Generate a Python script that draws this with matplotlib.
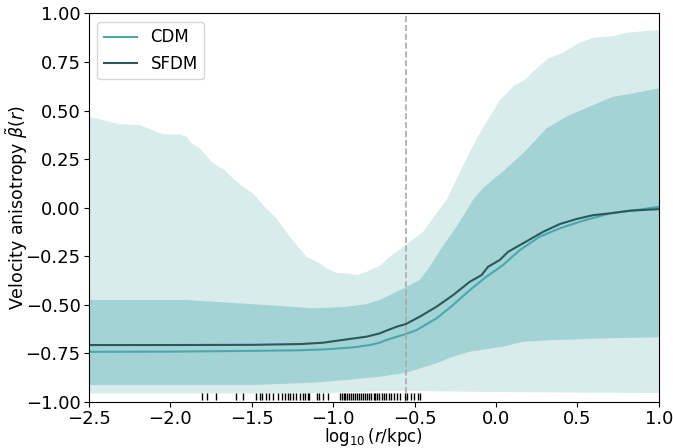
import numpy as np
import matplotlib
matplotlib.use("Agg")
import matplotlib.pyplot as plt

# ---- data ----
# outer (light) band, upper boundary
lu_x = [-2.5, -2.432, -2.31, -2.187, -2.115, -2.044, -1.941, -1.90, -1.870, -1.819, -1.737,
        -1.665, -1.614, -1.553, -1.491, -1.420, -1.348, -1.266, -1.164, -1.082, -1.041,
        -0.979, -0.918, -0.847, -0.795, -0.714, -0.652, -0.554, -0.448, -0.366, -0.304,
        -0.171, -0.100, 0.023, 0.115, 0.177, 0.238, 0.320, 0.402, 0.514, 0.596, 0.719,
        0.801, 0.924, 1.0]
lu_y = [0.468, 0.454, 0.430, 0.425, 0.400, 0.378, 0.377, 0.365, 0.331, 0.305, 0.228,
        0.193, 0.150, 0.107, 0.073, 0.004, -0.056, -0.150, -0.253, -0.287, -0.313,
        -0.336, -0.339, -0.348, -0.331, -0.300, -0.253, -0.193, -0.125, -0.030, 0.039,
        0.270, 0.382, 0.553, 0.631, 0.657, 0.708, 0.768, 0.794, 0.849, 0.874, 0.883,
        0.900, 0.910, 0.914]
# outer (light) band, lower boundary
ll_x = [-2.5, -1.5, -1.0, -0.7, -0.5, 0.0, 0.5, 1.0]
ll_y = [-0.957, -0.957, -0.955, -0.945, -0.945, -0.950, -0.953, -0.955]

# inner (dark) band, upper boundary
du_x = [-2.5, -1.9, -1.737, -1.409, -1.123, -0.918, -0.795, -0.714, -0.554, -0.468, -0.407,
        -0.335, -0.243, -0.141, -0.08, 0.064, 0.166, 0.310, 0.432, 0.596, 0.719, 0.841, 1.0]
du_y = [-0.476, -0.476, -0.485, -0.502, -0.519, -0.511, -0.497, -0.476, -0.411, -0.373,
        -0.305, -0.210, -0.099, 0.039, 0.100, 0.202, 0.279, 0.408, 0.468, 0.528, 0.571,
        0.588, 0.614]
# inner (dark) band, lower boundary
dl_x = [-2.5, -1.5, -1.123, -0.918, -0.714, -0.554, -0.366, -0.264, -0.161, 0.043, 0.166,
        0.370, 0.656, 1.0]
dl_y = [-0.914, -0.914, -0.902, -0.888, -0.871, -0.851, -0.802, -0.768, -0.742, -0.717,
        -0.691, -0.682, -0.674, -0.668]

# mean curves
cdm_x = [-2.5, -2.0, -1.5, -1.2, -1.041, -0.877, -0.775, -0.714, -0.673, -0.554, -0.488,
         -0.366, -0.264, -0.161, -0.059, 0.043, 0.146, 0.268, 0.391, 0.534, 0.698, 0.862, 1.0]
cdm_y = [-0.743, -0.742, -0.738, -0.735, -0.730, -0.720, -0.708, -0.696, -0.682, -0.651,
         -0.631, -0.571, -0.502, -0.425, -0.356, -0.296, -0.219, -0.150, -0.107, -0.068,
         -0.030, -0.013, 0.004]
sfdm_x = [-2.5, -2.0, -1.5, -1.2, -1.061, -0.918, -0.795, -0.714, -0.673, -0.611, -0.554,
          -0.468, -0.366, -0.264, -0.161, -0.089, -0.049, 0.023, 0.074, 0.166, 0.289, 0.391,
          0.494, 0.596, 0.698, 0.821, 1.0]
sfdm_y = [-0.708, -0.708, -0.707, -0.703, -0.696, -0.679, -0.665, -0.648, -0.634, -0.614,
          -0.600, -0.562, -0.511, -0.451, -0.382, -0.348, -0.305, -0.270, -0.228, -0.184,
          -0.125, -0.085, -0.059, -0.039, -0.030, -0.016, -0.008]

# rug positions
rug_x = [-1.808, -1.777, -1.720, -1.598, -1.553, -1.471, -1.450, -1.434, -1.413, -1.393,
         -1.372, -1.338, -1.317, -1.297, -1.277, -1.262, -1.246, -1.225, -1.205, -1.188,
         -1.174, -1.157, -1.148, -1.102, -1.086, -1.065, -1.031, -0.960, -0.948, -0.935,
         -0.925, -0.912, -0.900, -0.888, -0.876, -0.865, -0.852, -0.840, -0.828, -0.815,
         -0.802, -0.790, -0.778, -0.765, -0.752, -0.740, -0.728, -0.718, -0.700, -0.690,
         -0.675, -0.660, -0.645, -0.625, -0.605, -0.590, -0.560, -0.545, -0.520, -0.505,
         -0.480, -0.468]

vline_x = -0.555

xticks = [-2.5, -2.0, -1.5, -1.0, -0.5, 0.0, 0.5, 1.0]
yticks = [-1.0, -0.75, -0.5, -0.25, 0.0, 0.25, 0.5, 0.75, 1.0]

# ---- plot ----
fig = plt.figure(figsize=(6.73, 4.48), dpi=100)
ax = fig.add_axes([0.132, 0.1033, 0.847, 0.8667])

light = "#d9ecec"
dark = "#a3d3d4"
c_cdm = "#4aa8ad"
c_sfdm = "#2b585c"

ax.fill(np.concatenate([lu_x, ll_x[::-1]]), np.concatenate([lu_y, ll_y[::-1]]),
        color=light, lw=0)
ax.fill(np.concatenate([du_x, dl_x[::-1]]), np.concatenate([du_y, dl_y[::-1]]),
        color=dark, lw=0)
ax.plot(cdm_x, cdm_y, color=c_cdm, lw=1.5, label="CDM")
ax.plot(sfdm_x, sfdm_y, color=c_sfdm, lw=1.5, label="SFDM")
ax.axvline(vline_x, color="#aaaaaa", ls="--", lw=1.2)
ax.vlines(rug_x, 0.004, 0.022, transform=ax.get_xaxis_transform(), color="black", lw=1)

ax.set_xlim(-2.5, 1.0)
ax.set_ylim(-1.0, 1.0)
ax.set_xticks(xticks)
ax.set_yticks(yticks)
ax.tick_params(labelsize=13, pad=2.5)
ax.set_xlabel(r"$\log_{10}(r/\mathrm{kpc})$", fontsize=12)
ax.set_ylabel(r"Velocity anisotropy $\tilde{\beta}(r)$", fontsize=12.5)
ax.xaxis.set_label_coords(0.5, -0.062)
ax.yaxis.set_label_coords(-0.103, 0.5)
ax.legend(loc="upper left", fontsize=12, handlelength=2.0)

fig.savefig("out.png", dpi=100)
